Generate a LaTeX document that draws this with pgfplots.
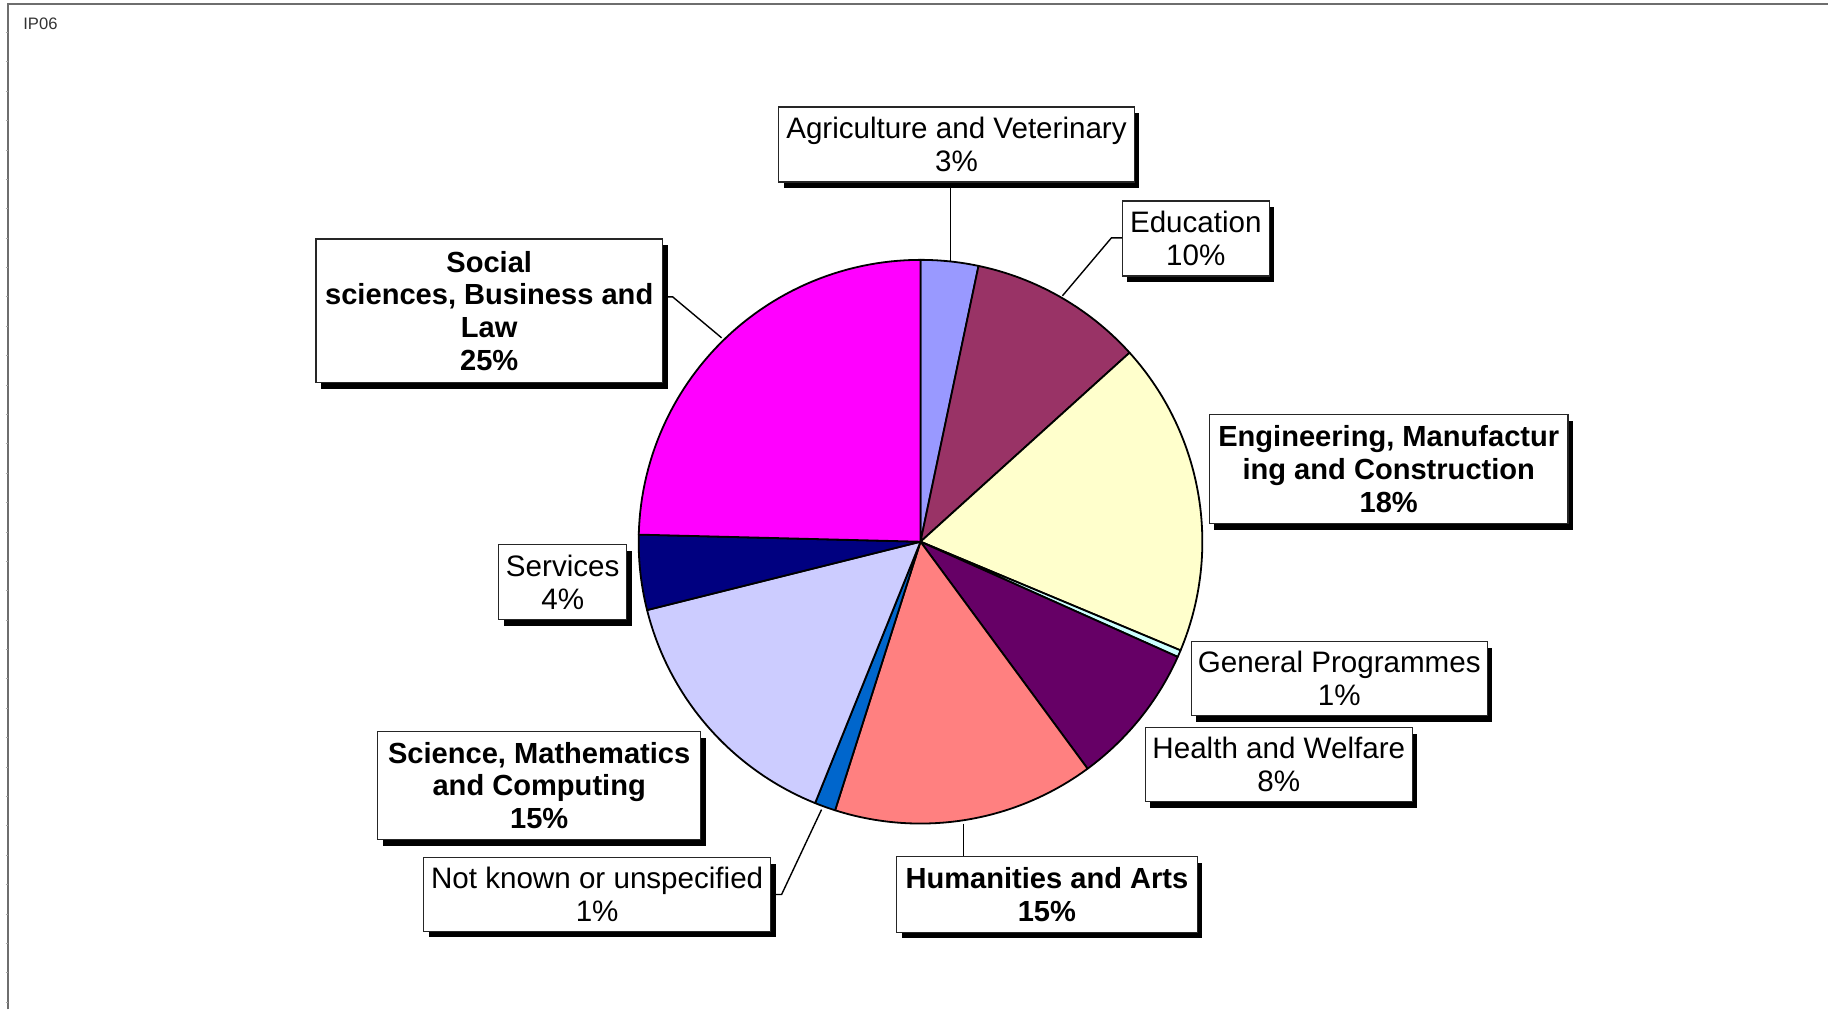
\documentclass[border=0pt]{standalone}
\usepackage{fontspec}
\setmainfont{Liberation Sans}
\usepackage{pgfplots}
\pgfplotsset{compat=1.18}
\usepackage{pgfplotstable}

\definecolor{agri}{HTML}{9999FF}
\definecolor{educ}{HTML}{993366}
\definecolor{engi}{HTML}{FFFFCC}
\definecolor{gene}{HTML}{CCFFFF}
\definecolor{heal}{HTML}{660066}
\definecolor{huma}{HTML}{FF8080}
\definecolor{notk}{HTML}{0066CC}
\definecolor{scie}{HTML}{CCCCFF}
\definecolor{serv}{HTML}{000080}
\definecolor{soci}{HTML}{FF00FF}
\definecolor{framegray}{HTML}{6E6E6E}

% shares in percent, clockwise from 12 o'clock
\pgfplotstableread{
field       value colour
agriculture 3.3   agri
education   10.0  educ
engineering 18.0  engi
general     0.4   gene
health      8.2   heal
humanities  15.0  huma
notknown    1.2   notk
science     15.0  scie
services    4.3   serv
social      24.6  soci
}\shares

\newcommand{\lblfont}{\fontsize{14.8}{16.6}\selectfont}
\newcommand{\lblbold}{\fontsize{14.55}{16.4}\selectfont\bfseries}
% box: left, top, right, bottom (pixels, y down), font, text
\newcommand{\labelbox}[6]{%
  \fill[black] (axis cs:#1+5,#2+6) rectangle (axis cs:#3+5,#4+6);
  \draw[fill=white, draw=black!85, line width=0.7pt] (axis cs:#1,#2) rectangle (axis cs:#3,#4);
  \node[align=center, inner sep=0pt, font=#5] at (axis cs:{(#1+#3)/2},{(#2+#4)/2}) {#6};
}

\begin{document}
\begin{tikzpicture}
\begin{axis}[
    width=914.5pt, height=505pt,
    scale only axis,
    xmin=0, xmax=1829,
    ymin=0, ymax=1010,
    y dir=reverse,
    axis lines=none,
    clip=false,
]
% keep the full canvas
\path (axis cs:0,0) rectangle (axis cs:1829,1010);

% frame
\draw[framegray, line width=1pt] (axis cs:8,1010) -- (axis cs:8,4) -- (axis cs:1829,4);
\pgfplotsinvokeforeach{0,...,33}{
  \draw[framegray!60, line width=0.3pt] (axis cs:6,{32.3+29.4*#1}) -- (axis cs:8,{32.3+29.4*#1});
}
\node[anchor=north west, inner sep=0pt, text=black!80, font=\fontsize{8.3}{10}\selectfont] at (axis cs:23,18) {IP06};

% pie slices
\pgfplotstablegetrowsof{\shares}
\pgfmathtruncatemacro\lastrow{\pgfplotsretval-1}
\def\cum{0}
\pgfplotsforeachungrouped \i in {0,...,\lastrow}{%
  \pgfplotstablegetelem{\i}{value}\of\shares
  \let\sliceval\pgfplotsretval
  \pgfplotstablegetelem{\i}{colour}\of\shares
  \let\slicecol\pgfplotsretval
  \pgfmathsetmacro\angA{\cum*3.6}
  \pgfmathsetmacro\angB{(\cum+\sliceval)*3.6}
  \edef\doslice{\noexpand\addplot[fill=\slicecol, draw=black, line width=0.9pt,
      line join=round, domain=\angA:\angB, samples=60, variable=\noexpand\t]
      ({921+282*sin(\noexpand\t)},{542-282*cos(\noexpand\t)})
      -- (axis cs:921,542) -- cycle;}
  \doslice
  \pgfmathsetmacro\cum{\cum+\sliceval}
}

% leader lines
\draw[black, line width=0.7pt] (axis cs:951,182) -- (axis cs:951,262);
\draw[black, line width=0.7pt] (axis cs:1123,238) -- (axis cs:1112,238) -- (axis cs:1063,296);
\draw[black, line width=0.7pt] (axis cs:663,297) -- (axis cs:673,297) -- (axis cs:722,338);
\draw[black, line width=0.7pt] (axis cs:771,895) -- (axis cs:782,895) -- (axis cs:822,810);
\draw[black, line width=0.7pt] (axis cs:964,824) -- (axis cs:964,857);

% labels
\labelbox{779}{107}{1135}{182}{\lblfont}{Agriculture and Veterinary\\3\%}
\labelbox{1123}{201}{1270}{276}{\lblfont}{Education\\10\%}
\labelbox{1210}{415}{1569}{524}{\lblbold}{Engineering, Manufactur\\ing and Construction\\18\%}
\labelbox{1192}{642}{1488}{716}{\lblfont}{General Programmes\\1\%}
\labelbox{1146}{728}{1413}{802}{\lblfont}{Health and Welfare\\8\%}
\labelbox{897}{857}{1198}{933}{\lblbold}{Humanities and Arts\\15\%}
\labelbox{424}{858}{771}{932}{\lblfont}{Not known or unspecified\\1\%}
\labelbox{378}{732}{701}{840}{\lblbold}{Science, Mathematics\\and Computing\\15\%}
\labelbox{499}{545}{627}{620}{\lblfont}{Services\\4\%}
\labelbox{316}{239}{663}{383}{\lblbold}{Social\\sciences, Business and\\Law\\25\%}
\end{axis}
\end{tikzpicture}
\end{document}
